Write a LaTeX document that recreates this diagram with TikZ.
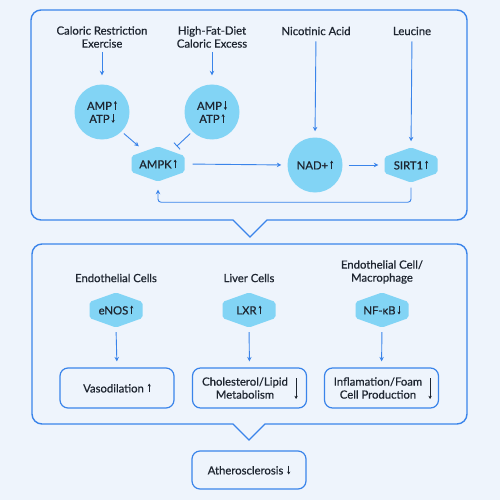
\documentclass[tikz,border=0pt]{standalone}
\usepackage{fontspec}
\setmainfont{Lato}[FakeBold=0.6]
\usetikzlibrary{arrows.meta,calc}
\definecolor{bg}{HTML}{EEF4FC}
\definecolor{ln}{HTML}{3A84EA}
\definecolor{hx}{HTML}{82D4F5}
\definecolor{tx}{HTML}{1E2530}
\newcommand{\ua}{\,\tikz[x=1pt,y=1pt,baseline=0pt]\draw[tx,line width=0.85pt,-{Stealth[length=2.8pt,width=3.2pt]}](0pt,0pt)--(0pt,1.55ex);}
\newcommand{\da}{\,\tikz[x=1pt,y=1pt,baseline=0pt]\draw[tx,line width=0.85pt,-{Stealth[length=2.8pt,width=3.2pt]}](0pt,1.55ex)--(0pt,0pt);}
\begin{document}
\begin{tikzpicture}[x=1pt,y=-1pt,
  every node/.style={text=tx},
  font=\fontsize{11.3}{13}\selectfont,
  lbl/.style={align=center,inner sep=0pt},
  circ/.style={circle,fill=hx,minimum size=55pt,inner sep=0pt,align=center},
  hexa/.style={minimum width=53pt,minimum height=35pt,inner sep=0pt,
    path picture={\fill[hx,rounded corners=2pt]
      (path picture bounding box.north)
      -- ($(path picture bounding box.north east)!0.27!(path picture bounding box.south east)$)
      -- ($(path picture bounding box.north east)!0.73!(path picture bounding box.south east)$)
      -- (path picture bounding box.south)
      -- ($(path picture bounding box.north west)!0.73!(path picture bounding box.south west)$)
      -- ($(path picture bounding box.north west)!0.27!(path picture bounding box.south west)$)
      -- cycle;}},
  boxx/.style={draw=ln,line width=1.2pt,rounded corners=8pt,minimum width=114pt,minimum height=40pt,align=center,inner sep=0pt},
  arr/.style={draw=ln,line width=0.9pt,-{Stealth[length=4.5pt,width=4.5pt]}},
  inh/.style={draw=ln,line width=0.9pt,-{Bar[width=9pt,line width=0.9pt]}},
  fr/.style={draw=ln,line width=1.4pt},
  bigarr/.style={draw=tx,line width=0.9pt,-{Stealth[length=3.2pt,width=3.4pt]}}
]
\fill[bg] (0,0) rectangle (500,500);
% frames
\draw[fr] (250,10) [rounded corners=10pt] -- (467,10) -- (467,220) -- (280,220) [sharp corners] -- (267,220) -- (250,237) -- (233,220) -- (220,220) [rounded corners=10pt] -- (31,220) -- (31,10) -- cycle;
\draw[fr] (250,244) [rounded corners=10pt] -- (467,244) -- (467,424) -- (278,424) [sharp corners] -- (265,424) -- (249,440) -- (233,424) -- (220,424) [rounded corners=10pt] -- (32,424) -- (32,244) -- cycle;
% top section
\node[lbl] (cr) at (102,37) {Caloric Restriction\\Exercise};
\node[lbl] (hf) at (212,37) {High-Fat-Diet\\Caloric Excess};
\node[lbl] (na) at (316,31) {Nicotinic Acid};
\node[lbl] (le) at (412,31) {Leucine};
\node[circ] (c1) at (102,112) {AMP\ua\\ATP\da};
\node[circ] (c2) at (212,112) {AMP\da\\ATP\ua};
\node[hexa] (ampk) at (158,164) {AMPK\ua};
\node[circ] (nad) at (315,165) {NAD+\ua};
\node[hexa] (sirt) at (411,165) {SIRT1\ua};
\draw[arr,shorten <=4pt,shorten >=9pt] (cr.south) -- (c1.north);
\draw[arr,shorten <=4pt,shorten >=9pt] (hf.south) -- (c2.north);
\draw[arr,shorten <=3pt] (c1.-45) -- ($(ampk.north west)!0.28!(ampk.north)$);
\draw[inh,shorten <=3pt] (c2.-135) -- ($(ampk.north east)!0.3!(ampk.north)$);
\draw[arr,shorten <=8pt,shorten >=6pt] (ampk.east) -- (nad.west);
\draw[arr,shorten <=6pt,shorten >=6pt] (nad.east) -- (sirt.west);
\draw[arr,shorten <=6pt,shorten >=6pt] (na.south) -- (nad.north);
\draw[arr,shorten <=6pt,shorten >=6pt] (le.south) -- (sirt.north);
\draw[arr,rounded corners=3pt,shorten <=5pt,shorten >=8pt] (sirt.south) -- ++(0,19.5) -| (ampk.south);
% bottom section
\node[lbl] (t1) at (116,278) {Endothelial Cells};
\node[lbl] (t2) at (249,278) {Liver Cells};
\node[lbl] (t3) at (382,272) {Endothelial Cell/\\Macrophage};
\node[hexa] (h1) at (116,310) {eNOS\ua};
\node[hexa] (h2) at (249,310) {LXR\ua};
\node[hexa] (h3) at (382,310) {NF-κB\da};
\node[boxx] (b1) at (117,388) {Vasodilation\,\ua};
\node[boxx] (b2) at (249.5,388) {};
\node[boxx] (b3) at (381.5,388) {};
\node[lbl] (b2t) at ($(b2.center)+(-4.5,0)$) {Cholesterol/Lipid\\Metabolism};
\node[lbl] (b3t) at ($(b3.center)+(-3.5,0)$) {Inflamation/Foam\\Cell Production};
\draw[bigarr] ($(b2.east)+(-11,-10)$) -- ($(b2.east)+(-11,11)$);
\draw[bigarr] ($(b3.east)+(-9,-10)$) -- ($(b3.east)+(-9,11)$);
\draw[arr,shorten <=4.5pt,shorten >=6pt] (h1.south) -- (b1.north);
\draw[arr,shorten <=4.5pt,shorten >=6pt] (h2.south) -- (b2.north);
\draw[arr,shorten <=4.5pt,shorten >=6pt] (h3.south) -- (b3.north);
\node[boxx,minimum height=38pt] (ath) at (249,470) {Atherosclerosis\,\da};
\end{tikzpicture}
\end{document}
